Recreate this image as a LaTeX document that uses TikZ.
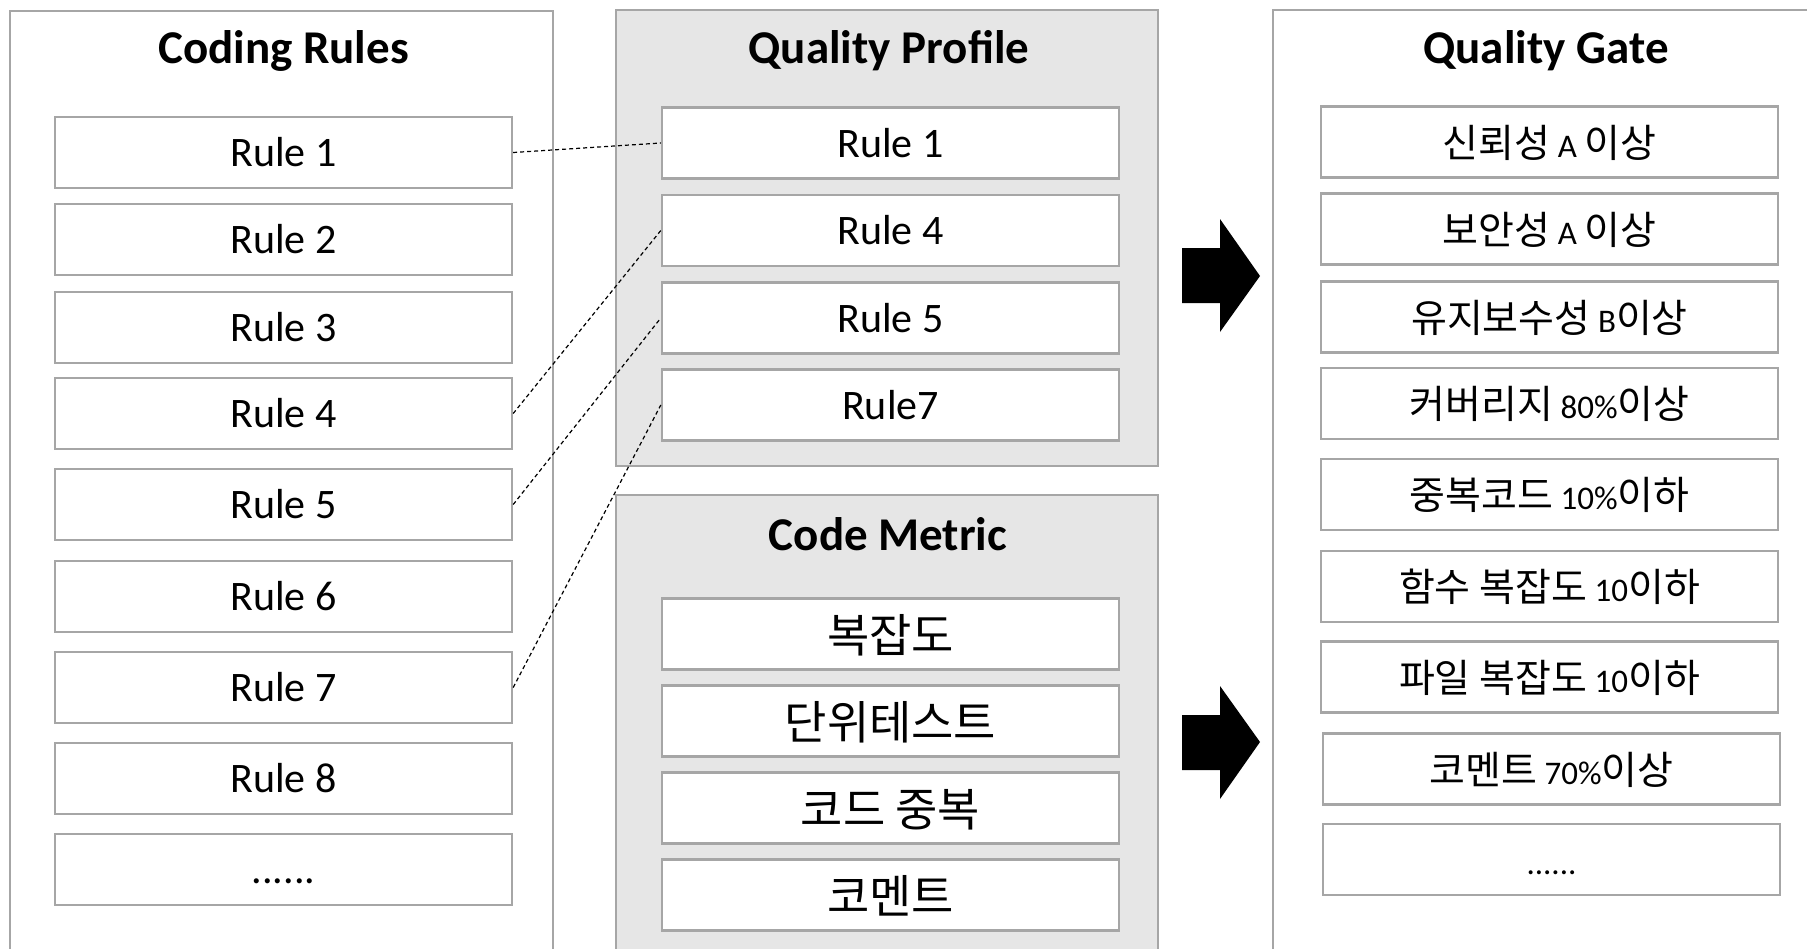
\documentclass[tikz,border=0pt]{standalone}
\usepackage{fontspec}
\setmainfont{Carlito}
\newfontfamily\krfont{Noto Sans CJK KR}
\newcommand\hangul[1]{{\krfont\fontsize{39}{44}\selectfont #1}}
\definecolor{edgegray}{HTML}{A6A6A6}
\definecolor{panelfill}{HTML}{E6E6E6}
\begin{document}
\begin{tikzpicture}[x=1pt,y=-1pt,
  panel/.style={draw=edgegray, line width=2.2pt, fill=white},
  shadedpanel/.style={panel, fill=panelfill},
  itembox/.style={draw=edgegray, line width=2.4pt, fill=white,
    minimum width=457pt, minimum height=71pt, inner sep=0pt,
    text height=28pt, text depth=0pt, font=\fontsize{42}{46}\selectfont},
  metricbox/.style={itembox, text height=36pt, font=\krfont\fontsize{46}{50}\selectfont},
  gatebox/.style={itembox, text height=30pt, font=\fontsize{33}{38}\selectfont},
  paneltitle/.style={anchor=base, inner sep=0pt, font=\bfseries\fontsize{47}{52}\selectfont},
  link/.style={black, line width=1.2pt, dash pattern=on 4pt off 3pt},
  blockarrow/.style={fill=black}
]
\clip (0,0) rectangle (1807,948);
\fill[white] (0,0) rectangle (1807,948);

% panels
\draw[panel] (10,11) rectangle (553,1000);
\draw[shadedpanel] (616,10) rectangle (1158,466);
\draw[shadedpanel] (616,495) rectangle (1158,1000);
\draw[panel] (1273,10) rectangle (1900,1000);

% panel titles
\node[paneltitle] (tcr) at (283.5,63) {Coding Rules};
\node[paneltitle] (tqp) at (889,63) {Quality Profile};
\node[paneltitle] (tcm) at (888,550) {Code Metric};
\node[paneltitle] (tqg) at (1546,63) {Quality Gate};

% coding rules
\node[itembox] (c1) at (283.5,152.5) {Rule 1};
\node[itembox] (c2) at (283.5,239.5) {Rule 2};
\node[itembox] (c3) at (283.5,327.5) {Rule 3};
\node[itembox] (c4) at (283.5,413.5) {Rule 4};
\node[itembox] (c5) at (283.5,504.5) {Rule 5};
\node[itembox] (c6) at (283.5,596.5) {Rule 6};
\node[itembox] (c7) at (283.5,687.5) {Rule 7};
\node[itembox] (c8) at (283.5,778.5) {Rule 8};
\node[itembox] (c9) at (283.5,869.5) {......};

% quality profile
\node[itembox] (p1) at (890.5,143) {Rule 1};
\node[itembox] (p4) at (890.5,230.5) {Rule 4};
\node[itembox] (p5) at (890.5,318) {Rule 5};
\node[itembox] (p7) at (890.5,405) {Rule7};

% code metric
\node[metricbox] (m1) at (890.5,634) {복잡도};
\node[metricbox] (m2) at (890.5,721) {단위테스트};
\node[metricbox] (m3) at (890.5,808) {코드 중복};
\node[metricbox] (m4) at (890.5,895) {코멘트};

% quality gate
\node[gatebox] (g1) at (1549.5,142) {\hangul{신뢰성} A \hangul{이상}};
\node[gatebox] (g2) at (1549.5,229) {\hangul{보안성} A \hangul{이상}};
\node[gatebox] (g3) at (1549.5,317) {\hangul{유지보수성} B\hangul{이상}};
\node[gatebox] (g4) at (1549.5,403.5) {\hangul{커버리지} 80\%\hangul{이상}};
\node[gatebox] (g5) at (1549.5,494.5) {\hangul{중복코드} 10\%\hangul{이하}};
\node[gatebox] (g6) at (1549.5,586.5) {\hangul{함수 복잡도} 10\hangul{이하}};
\node[gatebox] (g7) at (1549.5,677) {\hangul{파일 복잡도} 10\hangul{이하}};
\node[gatebox] (g8) at (1551.5,769) {\hangul{코멘트} 70\%\hangul{이상}};
\node[gatebox] (g9) at (1551.5,859.5) {......};

% selected rules
\draw[link] (c1.east) -- (p1.west);
\draw[link] (c4.east) -- (p4.west);
\draw[link] (c5.east) -- (p5.west);
\draw[link] (c7.east) -- (p7.west);

% block arrows into the gate
\fill[blockarrow] (1182,248) -- (1220,248) -- (1220,219) -- (1260,276)
  -- (1220,332) -- (1220,303) -- (1182,303) -- cycle;
\fill[blockarrow] (1182,715) -- (1220,715) -- (1220,686) -- (1260,742)
  -- (1220,799) -- (1220,770) -- (1182,770) -- cycle;
\end{tikzpicture}
\end{document}
